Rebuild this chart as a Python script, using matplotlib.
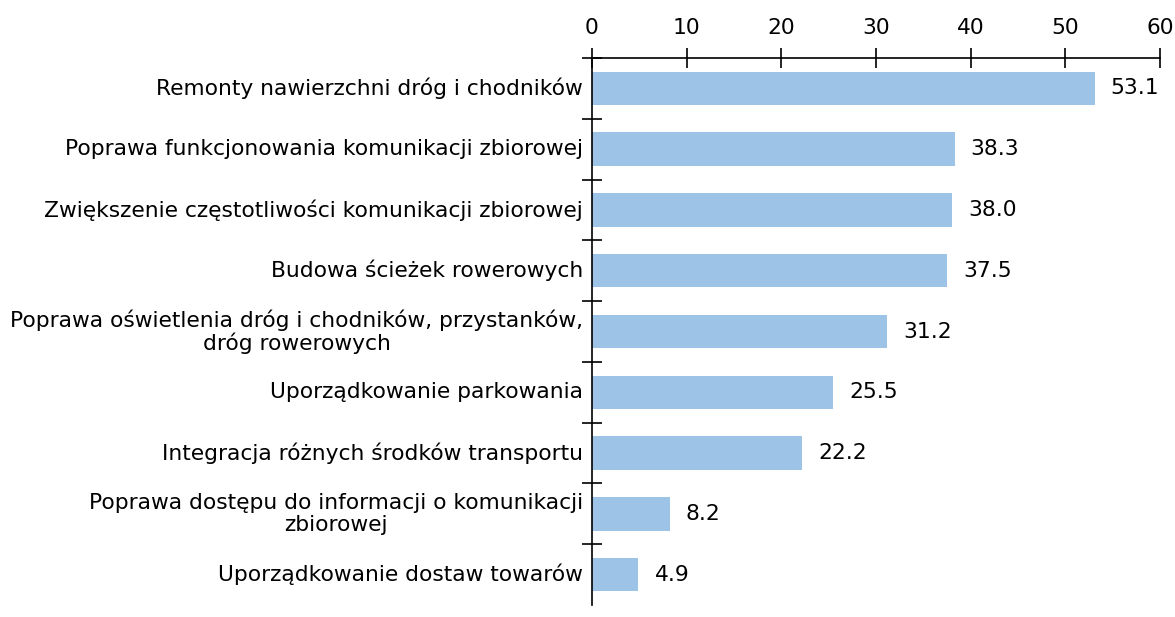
import matplotlib
matplotlib.use("Agg")
import matplotlib.pyplot as plt

categories = [
    "Remonty nawierzchni dróg i chodników",
    "Poprawa funkcjonowania komunikacji zbiorowej",
    "Zwiększenie częstotliwości komunikacji zbiorowej",
    "Budowa ścieżek rowerowych",
    "Poprawa oświetlenia dróg i chodników, przystanków,\ndróg rowerowych",
    "Uporządkowanie parkowania",
    "Integracja różnych środków transportu",
    "Poprawa dostępu do informacji o komunikacji\nzbiorowej",
    "Uporządkowanie dostaw towarów",
]
values = [53.1, 38.3, 38.0, 37.5, 31.2, 25.5, 22.2, 8.2, 4.9]
xticks = [0, 10, 20, 30, 40, 50, 60]

plt.rcParams['font.family'] = ['DejaVu Sans']
fs = 15.7

fig = plt.figure(figsize=(11.75, 6.17), dpi=100)
ax = fig.add_axes([592 / 1175, 12 / 617, 568 / 1175, 547 / 617])

pos = list(range(len(categories)))
ax.barh(pos, values, height=0.55, color='#9DC3E6')
for p, v in zip(pos, values):
    ax.text(v + 1.7, p, f"{v:.1f}", va='center', ha='left', fontsize=fs)

ax.set_xlim(0, 60)
ax.set_ylim(len(categories) - 0.5, -0.5)
ax.xaxis.tick_top()
ax.set_xticks(xticks)
ax.tick_params(axis='x', direction='inout', length=15, width=1.2, labelsize=fs, pad=7)

# category ticks on boundaries, labels at centers
ax.set_yticks([p + 0.5 for p in pos[:-1]] + [-0.5])
ax.set_yticklabels([])
ax.tick_params(axis='y', direction='inout', length=15, width=1.2)
for p, c in zip(pos, categories):
    ax.text(-0.95, p, c, ha='right', va='center', multialignment='center',
            fontsize=fs, linespacing=1.1)

for s in ['right', 'bottom']:
    ax.spines[s].set_visible(False)
ax.spines['left'].set_linewidth(1.2)
ax.spines['top'].set_linewidth(1.2)

fig.savefig("out.png", dpi=100)
